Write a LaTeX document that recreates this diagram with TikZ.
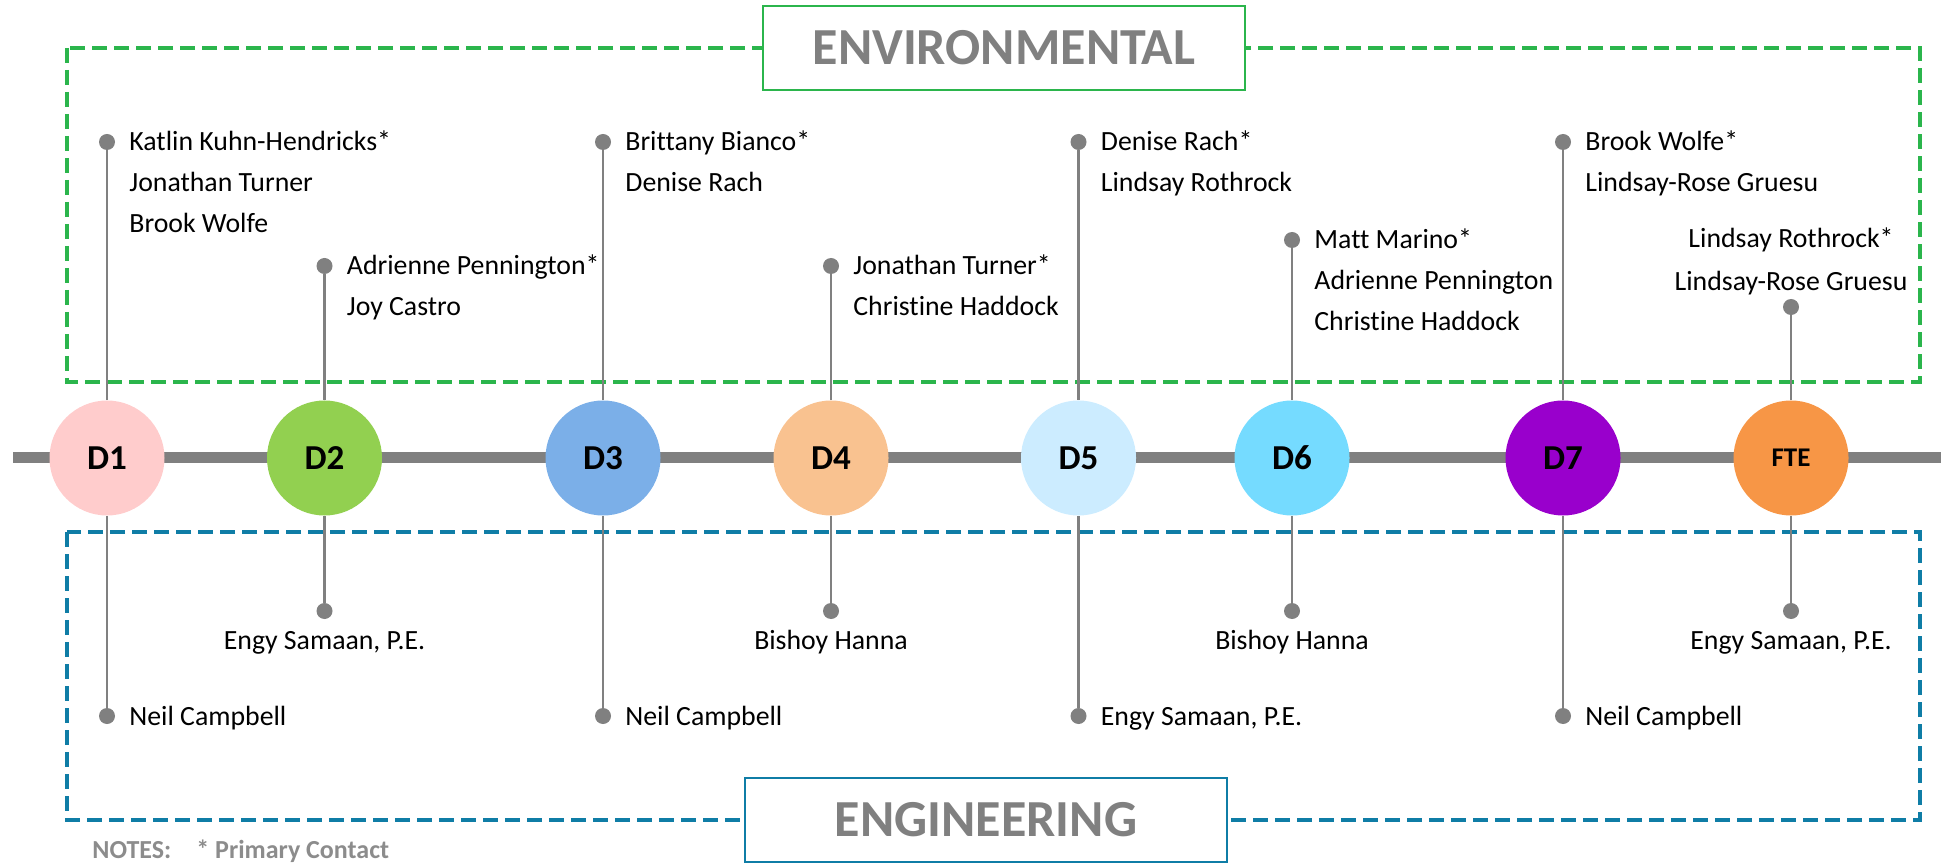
\documentclass[tikz,border=0pt]{standalone}
\usepackage{fontspec}
\setmainfont{Carlito}[Ligatures=NoCommon]
\usetikzlibrary{positioning}

\definecolor{lineGray}{HTML}{808080}
\definecolor{noteGray}{HTML}{8C8C8C}
\definecolor{envGreen}{HTML}{2BB54C}
\definecolor{engBlue}{HTML}{0F7DA6}
\definecolor{dPink}{HTML}{FFCCCC}
\definecolor{dGreen}{HTML}{92D050}
\definecolor{dBlue}{HTML}{7BAFE8}
\definecolor{dPeach}{HTML}{F9C290}
\definecolor{dIce}{HTML}{CCECFF}
\definecolor{dSky}{HTML}{75DBFF}
\definecolor{dPurple}{HTML}{9900CC}
\definecolor{dOrange}{HTML}{F79646}

\begin{document}
\begin{tikzpicture}[x=0.5pt, y=-0.5pt,
    phase/.style={circle, fill=#1, minimum size=57.5pt, inner sep=0pt, font=\fontsize{17.5}{20}\selectfont\bfseries},
    knob/.style={circle, fill=lineGray, minimum size=8pt, inner sep=0pt},
    stem/.style={draw=lineGray, line width=1.4pt},
    who/.style={anchor=base west, inner sep=0pt, font=\fontsize{13.9}{16}\selectfont},
    whoc/.style={who, anchor=base},
    teambox/.style={draw=#1, dash pattern=on 7.5pt off 3.5pt, line width=2pt},
    banner/.style={draw=#1, fill=white, line width=1pt, minimum width=241pt, minimum height=42pt, text=lineGray, font=\fontsize{26}{30}\selectfont\bfseries},
    note/.style={anchor=base west, inner sep=0pt, text=noteGray, font=\fontsize{13}{15}\selectfont\bfseries}]
    \useasboundingbox (0,0) rectangle (1941,865);
    % y of the time line
    \def\ly{458}

    % dashed team boxes
    \draw[teambox=envGreen] (67,48) rectangle (1920,382);
    \draw[teambox=engBlue] (67,532) rectangle (1920,820);
    \node[banner=envGreen] (env) at (1004,48) {ENVIRONMENTAL};
    \node[banner=engBlue] (eng) at (986,820) {ENGINEERING};

    % time line
    \coordinate (tl0) at (13,\ly);
    \coordinate (tl1) at (1941,\ly);
    \draw[lineGray, line width=5.5pt] (tl0) -- (tl1);

    % phases
    \foreach \n/\x/\c in {D1/107/dPink, D2/324.5/dGreen, D3/603/dBlue, D4/831/dPeach, D5/1078.5/dIce, D6/1292/dSky, D7/1563/dPurple}
      \node[phase=\c] (\n) at (\x,\ly) {\n};
    \node[phase=dOrange, font=\fontsize{13.5}{16}\selectfont\bfseries] (FTE) at (1791,\ly) {FTE};

    % environmental contacts (above the line)
    \foreach \n/\y/\names in {D1/142/{Katlin Kuhn-Hendricks*, Jonathan Turner, Brook Wolfe},
                             D2/266/{Adrienne Pennington*, Joy Castro},
                             D3/142/{Brittany Bianco*, Denise Rach},
                             D4/266/{Jonathan Turner*, Christine Haddock},
                             D5/142/{Denise Rach*, Lindsay Rothrock},
                             D6/240/{Matt Marino*, Adrienne Pennington, Christine Haddock},
                             D7/142/{Brook Wolfe*, Lindsay-Rose Gruesu}} {
      \node[knob] (u\n) at (\n|-0,\y) {};
      \draw[stem] (\n) -- (u\n);
      \foreach \t [count=\k] in \names
        \node[who] (u\n\k) at ([xshift=11pt, yshift={-4.5pt-20.5pt*(\k-1)}]u\n.center) {\t};
    }
    \node[knob] (uFTE) at (FTE|-0,307) {};
    \draw[stem] (FTE) -- (uFTE);
    \node[whoc] (uFTE1) at ([yshift=29.5pt]uFTE.center) {Lindsay Rothrock*};
    \node[whoc] (uFTE2) at ([yshift=8pt]uFTE.center) {Lindsay-Rose Gruesu};

    % engineering contacts (below the line)
    \foreach \n/\t in {D1/Neil Campbell, D3/Neil Campbell, D5/{Engy Samaan, P.E.}, D7/Neil Campbell} {
      \node[knob] (l\n) at (\n|-0,716) {};
      \draw[stem] (\n) -- (l\n);
      \node[who] (l\n t) at ([xshift=11pt, yshift=-4.5pt]l\n.center) {\t};
    }
    \foreach \n/\t in {D2/{Engy Samaan, P.E.}, D4/Bishoy Hanna, D6/Bishoy Hanna, FTE/{Engy Samaan, P.E.}} {
      \node[knob] (l\n) at (\n|-0,611) {};
      \draw[stem] (\n) -- (l\n);
      \node[whoc] (l\n t) at ([yshift=-19pt]l\n.center) {\t};
    }

    % notes
    \node[note] (notes) at (92,858) {NOTES:};
    \node[note] (primary) at (196,858) {* Primary Contact};
\end{tikzpicture}
\end{document}
